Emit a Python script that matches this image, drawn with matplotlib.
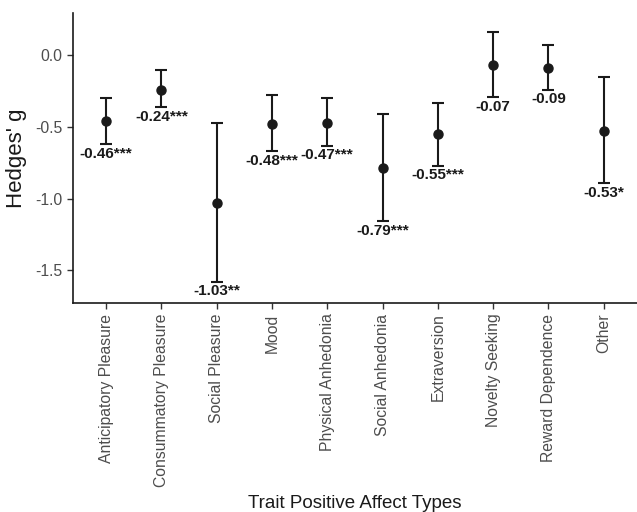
import matplotlib
matplotlib.use("Agg")
import matplotlib.pyplot as plt
import numpy as np

# ---------------------------
# Data
# ---------------------------
categories = [
    "Anticipatory Pleasure", "Consummatory Pleasure", "Social Pleasure", "Mood",
    "Physical Anhedonia", "Social Anhedonia", "Extraversion", "Novelty Seeking",
    "Reward Dependence", "Other",
]
hedges_g = [-0.46, -0.24, -1.03, -0.48, -0.47, -0.79, -0.55, -0.07, -0.09, -0.53]
ci_upper = [-0.30, -0.10, -0.47, -0.28, -0.30, -0.41, -0.33, 0.16, 0.07, -0.15]
ci_lower = [-0.62, -0.36, -1.58, -0.67, -0.63, -1.16, -0.77, -0.29, -0.24, -0.89]
stars = ["***", "***", "**", "***", "***", "***", "***", "", "", "*"]

plt.rcParams["font.family"] = ["Liberation Sans", "DejaVu Sans"]
plt.rcParams["axes.unicode_minus"] = False

fig = plt.figure(figsize=(6.37, 5.12), dpi=100)
ax = fig.add_axes([0.1146, 0.408, 0.885, 0.567])

x = np.arange(1, len(categories) + 1)
g = np.array(hedges_g)
lo = np.array(ci_lower)
hi = np.array(ci_upper)

ax.errorbar(x, g, yerr=[g - lo, hi - g], fmt="o", color="#1a1a1a",
            ecolor="#1a1a1a", elinewidth=1.5, capsize=4.3, capthick=1.5,
            markersize=6.5)

# value labels below the lower cap
for xi, val, low, s in zip(x, hedges_g, ci_lower, stars):
    ax.annotate(f"{val:.2f}{s}", (xi, low), xytext=(0, -2),
                textcoords="offset points", ha="center", va="top",
                fontsize=11, fontweight="bold", color="#1a1a1a")

ax.set_xlim(0.4, 10.6)
ax.set_ylim(-1.73, 0.297)
ax.set_xticks(x)
ax.set_xticklabels(categories, rotation=90, fontsize=11.3, color="#4d4d4d")
ax.set_yticks([0.0, -0.5, -1.0, -1.5])
ax.set_yticklabels(["0.0", "-0.5", "-1.0", "-1.5"], fontsize=11.3, color="#4d4d4d")
ax.tick_params(axis="both", length=4, width=1.0, color="#333333")

ax.set_ylabel("Hedges' g", fontsize=16, color="#1a1a1a", labelpad=6)
ax.set_xlabel("Trait Positive Affect Types", fontsize=13.5, color="#1a1a1a",
              labelpad=6)

for side in ["top", "right"]:
    ax.spines[side].set_visible(False)
for side in ["left", "bottom"]:
    ax.spines[side].set_linewidth(1.2)
    ax.spines[side].set_color("#1a1a1a")

fig.savefig("out.png", dpi=100)
